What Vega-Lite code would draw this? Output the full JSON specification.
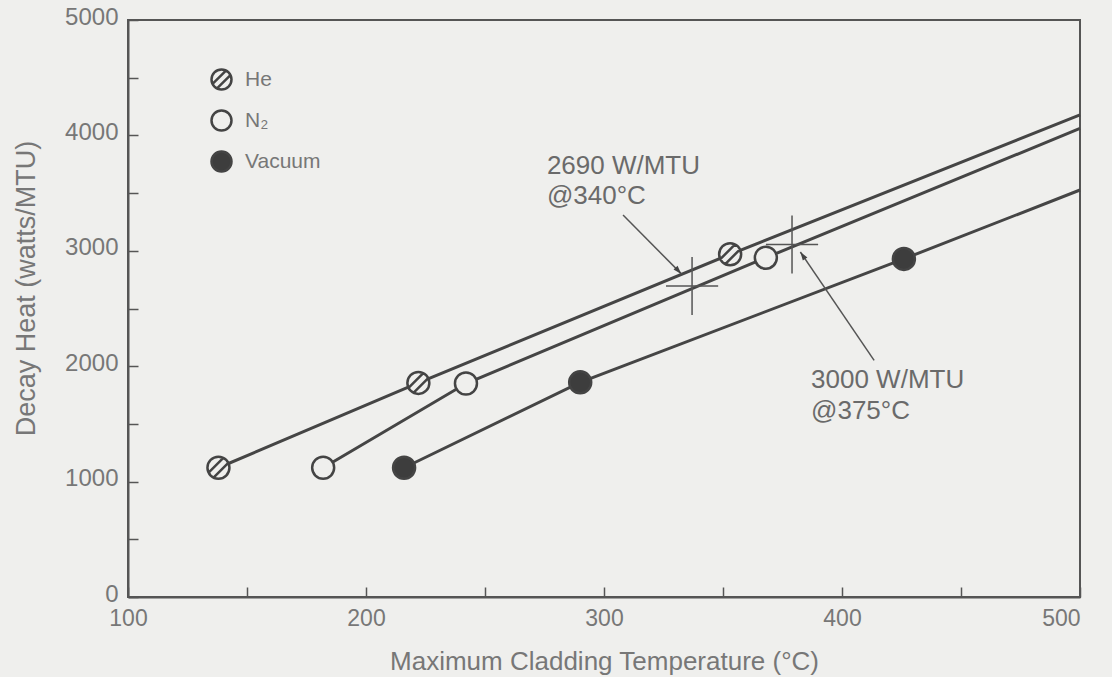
{
  "$schema": "https://vega.github.io/schema/vega-lite/v6.json",
  "width": 952,
  "height": 577,
  "autosize": "none",
  "padding": {"left": 128, "top": 20, "right": 32, "bottom": 80},
  "background": "#efefed",
  "config": {
    "view": {"stroke": "#555555", "strokeWidth": 2},
    "font": "Liberation Sans",
    "axis": {
      "grid": false,
      "domainColor": "#555555",
      "domainWidth": 2,
      "tickColor": "#555555",
      "tickWidth": 1.5,
      "tickSize": -10,
      "labelColor": "#777777",
      "labelFont": "Liberation Sans",
      "titleColor": "#777777",
      "titleFont": "Liberation Sans",
      "titleFontWeight": "normal"
    }
  },
  "datasets": {
    "curves": [
      {"gas": "He", "temp": 138, "heat": 1120, "measured": true},
      {"gas": "He", "temp": 222, "heat": 1855, "measured": true},
      {"gas": "He", "temp": 353, "heat": 2970, "measured": true},
      {"gas": "He", "temp": 500, "heat": 4177, "measured": false},
      {"gas": "N₂", "temp": 182, "heat": 1120, "measured": true},
      {"gas": "N₂", "temp": 242, "heat": 1850, "measured": true},
      {"gas": "N₂", "temp": 368, "heat": 2940, "measured": true},
      {"gas": "N₂", "temp": 500, "heat": 4060, "measured": false},
      {"gas": "Vacuum", "temp": 216, "heat": 1120, "measured": true},
      {"gas": "Vacuum", "temp": 290, "heat": 1860, "measured": true},
      {"gas": "Vacuum", "temp": 426, "heat": 2930, "measured": true},
      {"gas": "Vacuum", "temp": 500, "heat": 3527, "measured": false}
    ],
    "crosses": [
      {"temp": 337, "heat": 2695},
      {"temp": 379, "heat": 3055}
    ],
    "arrows": [
      {"id": "a1", "temp": 308, "heat": 3310, "temp2": 332.5, "heat2": 2800},
      {"id": "a2", "temp": 413.5, "heat": 2050, "temp2": 382.5, "heat2": 2990}
    ],
    "notes": [
      {"temp": 276, "heat": 3735, "text": "2690 W/MTU"},
      {"temp": 276, "heat": 3475, "text": "@340°C"},
      {"temp": 387, "heat": 1880, "text": "3000 W/MTU"},
      {"temp": 387, "heat": 1612, "text": "@375°C"}
    ]
  },
  "layer": [
    {
      "data": {"name": "curves"},
      "mark": {"type": "line", "color": "#454545", "strokeWidth": 3},
      "encoding": {
        "x": {
          "field": "temp", "type": "quantitative",
          "scale": {"domain": [100, 500], "nice": false, "zero": false},
          "axis": {
            "values": [100, 150, 200, 250, 300, 350, 400, 450, 500],
            "labelExpr": "datum.value % 100 == 0 ? datum.label : ''",
            "labelAlign": {"condition": {"test": "datum.value == 500", "value": "right"}, "value": "center"},
            "labelFontSize": 23,
            "labelPadding": 20,
            "title": "Maximum Cladding Temperature (°C)",
            "titleFontSize": 26,
            "titleY": 64,
            "titleBaseline": "middle"
          }
        },
        "y": {
          "field": "heat", "type": "quantitative",
          "scale": {"domain": [0, 5000], "nice": false},
          "axis": {
            "values": [0, 500, 1000, 1500, 2000, 2500, 3000, 3500, 4000, 4500, 5000],
            "labelExpr": "datum.value % 1000 == 0 ? datum.label : ''",
            "format": "d",
            "labelFontSize": 24,
            "labelPadding": 20,
            "labelOffset": -3,
            "title": "Decay Heat (watts/MTU)",
            "titleFontSize": 27,
            "titleX": -102,
            "titleY": 268,
            "titleBaseline": "middle"
          }
        },
        "detail": {"field": "gas"}
      }
    },
    {
      "data": {"name": "curves"},
      "transform": [{"filter": "datum.measured"}],
      "mark": {"type": "point", "filled": true, "opacity": 1, "stroke": "#444444", "strokeWidth": 2.5, "size": 484},
      "encoding": {
        "x": {"field": "temp", "type": "quantitative"},
        "y": {"field": "heat", "type": "quantitative"},
        "shape": {
          "field": "gas", "type": "nominal",
          "scale": {
            "domain": ["He", "N₂", "Vacuum"],
            "range": [
              "M1,0A1,1 0 1,1 -1,0A1,1 0 1,1 1,0Z M-0.445,0.895L0.895,-0.445 M-0.895,0.445L0.445,-0.895",
              "M1,0A1,1 0 1,1 -1,0A1,1 0 1,1 1,0Z",
              "M1,0A1,1 0 1,1 -1,0A1,1 0 1,1 1,0Z"
            ]
          },
          "legend": {
            "title": null,
            "orient": "none",
            "legendX": 82,
            "legendY": 48,
            "symbolSize": 400,
            "symbolStrokeWidth": 2.5,
            "labelFontSize": 21,
            "labelColor": "#777777",
            "labelOffset": 12,
            "rowPadding": 10,
            "encode": {"symbols": {"update": {"stroke": {"value": "#444444"}, "strokeWidth": {"value": 2.5}}}}
          }
        },
        "fill": {
          "field": "gas", "type": "nominal",
          "scale": {"domain": ["He", "N₂", "Vacuum"], "range": ["#efefed", "#efefed", "#3d3d3d"]},
          "legend": {
            "title": null,
            "orient": "none",
            "legendX": 82,
            "legendY": 48,
            "symbolSize": 400,
            "symbolStrokeWidth": 2.5,
            "labelFontSize": 21,
            "labelColor": "#777777",
            "labelOffset": 12,
            "rowPadding": 10,
            "encode": {"symbols": {"update": {"stroke": {"value": "#444444"}, "strokeWidth": {"value": 2.5}}}}
          }
        }
      }
    },
    {
      "data": {"name": "crosses"},
      "mark": {"type": "point", "shape": "M-0.9,0L0.9,0M0,-1L0,1", "size": 3364, "filled": false, "stroke": "#555555", "strokeWidth": 1.5, "opacity": 1},
      "encoding": {
        "x": {"field": "temp", "type": "quantitative"},
        "y": {"field": "heat", "type": "quantitative"}
      }
    },
    {
      "data": {"name": "arrows"},
      "mark": {"type": "rule", "color": "#555555", "strokeWidth": 1.5},
      "encoding": {
        "x": {"field": "temp", "type": "quantitative"},
        "y": {"field": "heat", "type": "quantitative"},
        "x2": {"field": "temp2"},
        "y2": {"field": "heat2"}
      }
    },
    {
      "data": {"name": "arrows"},
      "transform": [{"filter": "datum.id == 'a1'"}],
      "mark": {"type": "point", "shape": "M0,0L-0.55,1.7L0.55,1.7Z", "size": 100, "filled": true, "color": "#444444", "opacity": 1, "angle": 137},
      "encoding": {
        "x": {"field": "temp2", "type": "quantitative"},
        "y": {"field": "heat2", "type": "quantitative"}
      }
    },
    {
      "data": {"name": "arrows"},
      "transform": [{"filter": "datum.id == 'a2'"}],
      "mark": {"type": "point", "shape": "M0,0L-0.55,1.7L0.55,1.7Z", "size": 100, "filled": true, "color": "#444444", "opacity": 1, "angle": 326},
      "encoding": {
        "x": {"field": "temp2", "type": "quantitative"},
        "y": {"field": "heat2", "type": "quantitative"}
      }
    },
    {
      "data": {"name": "notes"},
      "mark": {"type": "text", "align": "left", "baseline": "middle", "fontSize": 26, "color": "#6a6a6a", "font": "Liberation Sans"},
      "encoding": {
        "x": {"field": "temp", "type": "quantitative"},
        "y": {"field": "heat", "type": "quantitative"},
        "text": {"field": "text"}
      }
    }
  ]
}
